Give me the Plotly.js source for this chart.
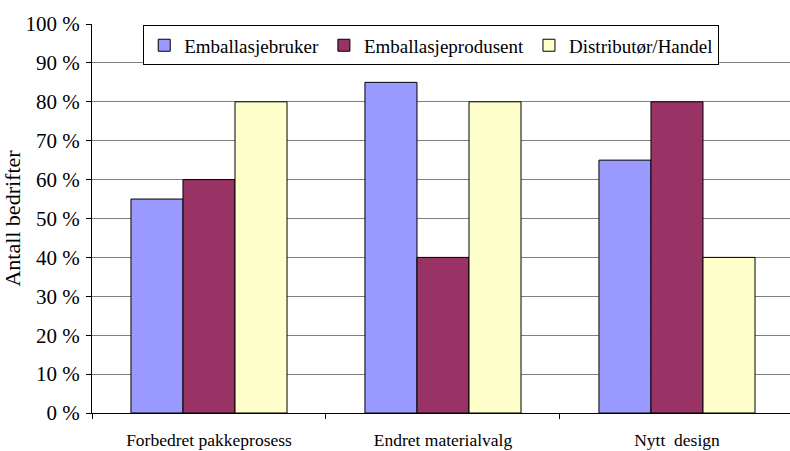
<!DOCTYPE html>
<html>
<head>
<meta charset="utf-8">
<script src="https://cdn.plot.ly/plotly-3.0.1.min.js"></script>
<style>
  html, body { margin: 0; padding: 0; background: #fff; }
  #chart { width: 790px; height: 451px; }
</style>
</head>
<body>
<div id="chart"></div>
<script>
const categories = ["Forbedret pakkeprosess", "Endret materialvalg", "Nytt  design"];
const seriesNames = ["Emballasjebruker", "Emballasjeprodusent", "Distributør/Handel"];
const emballasjebruker = [55, 85, 65];
const emballasjeprodusent = [60, 40, 80];
const distributorHandel = [80, 80, 40];
const yTickValues = [0, 10, 20, 30, 40, 50, 60, 70, 80, 90, 100];
const colors = ["#9999FF", "#993366", "#FFFFCC"];

const seriesValues = [emballasjebruker, emballasjeprodusent, distributorHandel];
const fontFamily = 'Liberation Serif';

const traces = seriesValues.map((vals, i) => ({
  type: "bar",
  name: seriesNames[i],
  x: categories,
  y: vals,
  marker: { color: colors[i], line: { color: "#000000", width: 1 } },
  hoverinfo: "x+y+name"
}));

const layout = {
  width: 790,
  height: 451,
  margin: { l: 92, r: 0, t: 24, b: 38, pad: 0 },
  paper_bgcolor: "#ffffff",
  plot_bgcolor: "#ffffff",
  font: { family: fontFamily, color: "#000000", size: 17 },
  barmode: "group",
  bargap: 0.333,
  bargroupgap: 0,
  showlegend: true,
  legend: {
    orientation: "h",
    x: 0.486,
    y: 0.945,
    xanchor: "center",
    yanchor: "middle",
    bgcolor: "#ffffff",
    bordercolor: "#000000",
    borderwidth: 1,
    font: { family: fontFamily, size: 19, color: "#000000" },
    itemwidth: 30,
    tracegroupgap: 0
  },
  xaxis: {
    type: "category",
    range: [-0.5, 2.483],
    showline: true,
    linecolor: "#000000",
    linewidth: 1,
    ticks: "outside",
    tickson: "boundaries",
    ticklen: 5,
    tickcolor: "#000000",
    ticklabelstandoff: 11,
    showgrid: false,
    zeroline: false,
    automargin: false,
    tickfont: { family: fontFamily, size: 17.5, color: "#000000" },
    fixedrange: true
  },
  yaxis: {
    range: [0, 100],
    tickvals: yTickValues,
    ticktext: yTickValues.map(v => v + " %"),
    showline: true,
    linecolor: "#000000",
    linewidth: 1,
    ticks: "outside",
    ticklen: 5,
    tickcolor: "#000000",
    ticklabelstandoff: 2,
    showgrid: true,
    gridcolor: "#808080",
    gridwidth: 1,
    zeroline: false,
    automargin: true,
    tickfont: { family: fontFamily, size: 21, color: "#000000" },
    title: { text: "Antall bedrifter", font: { family: fontFamily, size: 22, color: "#000000" }, standoff: 6 },
    fixedrange: true
  }
};

Plotly.newPlot("chart", traces, layout, { displayModeBar: false, staticPlot: true });
</script>
</body>
</html>
